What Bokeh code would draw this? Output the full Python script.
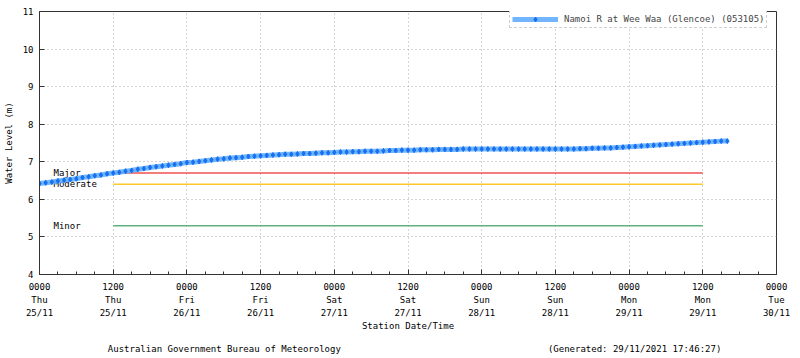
from bokeh.plotting import figure
from bokeh.models import FixedTicker, Legend, LegendItem, LinearAxis, ColumnDataSource
from bokeh.core.properties import value
from bokeh.embed import file_html
from bokeh.resources import INLINE

# ---- data ----
station = "Namoi R at Wee Waa (Glencoe) (053105)"
# hours since 0000 Thu 25/11, hourly readings (m)
hours = list(range(0, 113))
levels = [
    6.42, 6.44, 6.46, 6.49, 6.51, 6.53, 6.55, 6.58, 6.60, 6.63, 6.65, 6.68, 6.70,
    6.72, 6.75, 6.77, 6.80, 6.82, 6.85, 6.87, 6.89, 6.91, 6.93, 6.95, 6.98,
    6.99, 7.01, 7.03, 7.05, 7.07, 7.08, 7.10, 7.11, 7.12, 7.14, 7.15, 7.16,
    7.17, 7.18, 7.19, 7.20, 7.20, 7.21, 7.22, 7.22, 7.23, 7.24, 7.24, 7.25,
    7.26, 7.26, 7.27, 7.27, 7.28, 7.28, 7.28, 7.29, 7.30, 7.30, 7.31, 7.31,
    7.31, 7.32, 7.32, 7.32, 7.33, 7.33, 7.33, 7.33, 7.34, 7.34, 7.34, 7.34,
    7.34, 7.34, 7.34, 7.34, 7.34, 7.34, 7.34, 7.34, 7.34, 7.34, 7.34, 7.34,
    7.34, 7.34, 7.34, 7.35, 7.35, 7.36, 7.36, 7.37, 7.37, 7.38, 7.39, 7.40,
    7.41, 7.42, 7.43, 7.44, 7.45, 7.46, 7.47, 7.48, 7.49, 7.50, 7.51, 7.52,
    7.53, 7.54, 7.55, 7.55,
]
flood_names = ["Major", "Moderate", "Minor"]
flood_levels = [6.7, 6.4, 5.3]
flood_colors = ["#f05050", "#ffc82a", "#5fb27f"]
flood_start = 12
flood_end = 108

tick_hours = [0, 12, 24, 36, 48, 60, 72, 84, 96, 108, 120]
tick_times = ["0000", "1200"] * 5 + ["0000"]
tick_days = ["Thu", "Thu", "Fri", "Fri", "Sat", "Sat", "Sun", "Sun", "Mon", "Mon", "Tue"]
tick_dates = ["25/11", "25/11", "26/11", "26/11", "27/11", "27/11", "28/11", "28/11",
              "29/11", "29/11", "30/11"]
y_ticks = [4, 5, 6, 7, 8, 9, 10, 11]

footer_texts = ["Australian Government Bureau of Meteorology",
                "(Generated: 29/11/2021 17:46:27)"]
footer_at = [30.1, 96.9]  # hours axis position of footer text centres

FONT = "DejaVu Sans Mono"
FS = "9px"

p = figure(width=800, height=358, output_backend="svg", toolbar_location=None,
           x_range=(0, 120), y_range=(4, 11),
           min_border_left=33, min_border_right=24, min_border_top=11, min_border_bottom=84)
p.background_fill_color = "white"
p.border_fill_color = "white"
p.outline_line_color = "#333333"
p.outline_line_width = 1

# axes
p.xaxis.ticker = FixedTicker(ticks=tick_hours, minor_ticks=list(range(0, 121, 3)))
p.xaxis.major_label_overrides = {h: f"{t}\n{d}\n{dt}" for h, t, d, dt in
                                 zip(tick_hours, tick_times, tick_days, tick_dates)}
p.yaxis.ticker = FixedTicker(ticks=y_ticks)
p.xaxis.axis_label = "Station Date/Time"
p.yaxis.axis_label = "Water Level (m)"
for ax in (p.xaxis[0], p.yaxis[0]):
    ax.axis_line_color = "#333333"
    ax.major_tick_line_color = "#333333"
    ax.minor_tick_line_color = "#333333"
    ax.major_tick_in = 5
    ax.major_tick_out = 0
    ax.minor_tick_in = 3
    ax.minor_tick_out = 0
    ax.major_label_text_font = FONT
    ax.major_label_text_font_size = FS
    ax.major_label_text_color = "#000000"
    ax.axis_label_text_font = FONT
    ax.axis_label_text_font_size = FS
    ax.axis_label_text_font_style = "normal"
    ax.axis_label_text_color = "#000000"
p.xaxis.major_label_text_line_height = 1.3
p.xaxis.major_label_standoff = 7
p.xaxis.axis_label_standoff = 0
p.yaxis.major_label_standoff = 6
p.yaxis.axis_label_standoff = 6
p.yaxis.minor_tick_line_color = None

# footer line
footer = LinearAxis(ticker=FixedTicker(ticks=footer_at),
                    major_label_overrides={x: t for x, t in zip(footer_at, footer_texts)},
                    axis_line_color=None, major_tick_line_color=None,
                    minor_tick_line_color=None, major_label_standoff=4,
                    major_label_text_font=FONT, major_label_text_font_size=FS,
                    major_label_text_color="#000000")
p.add_layout(footer, "below")

p.xgrid.ticker = FixedTicker(ticks=tick_hours)
p.ygrid.ticker = FixedTicker(ticks=y_ticks)
for g in (p.xgrid[0], p.ygrid[0]):
    g.grid_line_color = "#a8a8a8"
    g.grid_line_dash = "1 3"
    g.grid_line_width = 1

# flood classification lines
fsrc = ColumnDataSource(dict(x0=[flood_start] * 3, x1=[flood_end] * 3, y=flood_levels,
                             name=flood_names, color=flood_colors, xl=[0] * 3))
p.segment(x0="x0", y0="y", x1="x1", y1="y", color="color", line_width=1.5, source=fsrc)
p.text(x="xl", y="y", text="name", source=fsrc, x_offset=14, text_baseline="middle",
       text_font=value(FONT), text_font_size=FS, text_color="#000000")

# water level series
src = ColumnDataSource(dict(x=hours, y=levels))
r_line = p.line("x", "y", source=src, line_color="#62adff", line_width=5, line_alpha=0.9)
r_pts = p.scatter("x", "y", source=src, marker="diamond", size=5, color="#1670f0")

legend = Legend(items=[LegendItem(label=station, renderers=[r_line, r_pts])],
                location=(470, 246), margin=0, padding=2, spacing=0,
                label_text_font=FONT, label_text_font_size=FS, label_height=12,
                glyph_height=12, glyph_width=46, label_standoff=6,
                border_line_color="#a0a0a0", border_line_dash="1 2",
                background_fill_alpha=1.0)
p.add_layout(legend)

open("out.html", "w").write(file_html(p, INLINE))
